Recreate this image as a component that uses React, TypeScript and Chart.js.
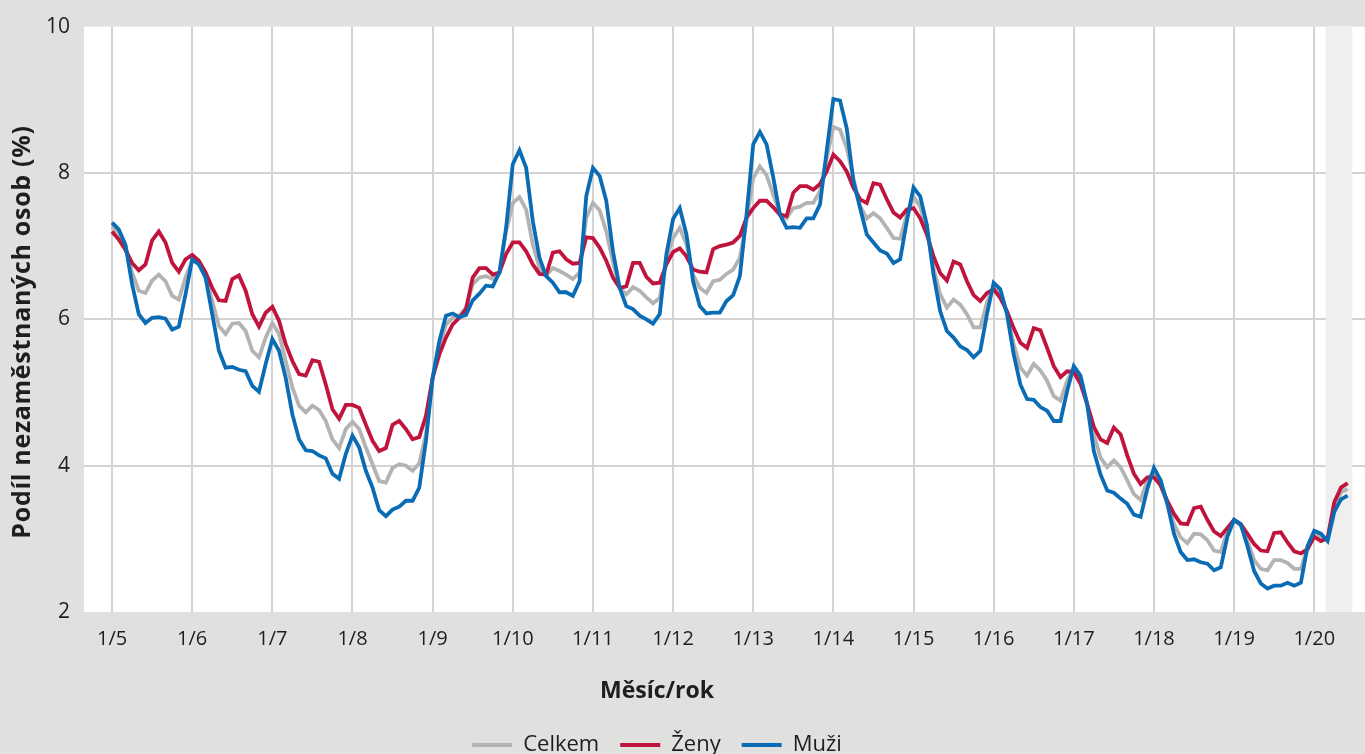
import React, { useEffect, useRef } from "react";
import { Chart, registerables } from "chart.js";

Chart.register(...registerables);

// ---- Data (monthly, January 2005 = month 0) ----
const yearLabels = ["1/5", "1/6", "1/7", "1/8", "1/9", "1/10", "1/11", "1/12", "1/13", "1/14", "1/15", "1/16", "1/17", "1/18", "1/19", "1/20"];
const yearTickMonths = [0, 12, 24, 36, 48, 60, 72, 84, 96, 108, 120, 132, 144, 156, 168, 180];
const yTickValues = [2, 4, 6, 8, 10];

const celkem = [
  7.27, 7.18, 7.0, 6.64, 6.39, 6.36, 6.53, 6.61, 6.52, 6.32, 6.27, 6.57,
  6.8, 6.77, 6.59, 6.25, 5.91, 5.8, 5.94, 5.95, 5.84, 5.57, 5.48, 5.75,
  5.95, 5.8, 5.43, 5.07, 4.82, 4.73, 4.82, 4.76, 4.61, 4.36, 4.24, 4.5,
  4.6, 4.5, 4.25, 4.02, 3.79, 3.77, 3.97, 4.02, 4.0, 3.93, 4.03, 4.43,
  5.2, 5.61, 5.93, 6.02, 6.05, 6.16, 6.48, 6.57, 6.59, 6.55, 6.64, 7.2,
  7.59, 7.67, 7.5, 7.02, 6.7, 6.6, 6.7, 6.66, 6.61, 6.55, 6.64, 7.39,
  7.59, 7.49, 7.2, 6.78, 6.43, 6.34, 6.44, 6.39, 6.3, 6.22, 6.29, 6.84,
  7.11, 7.25, 7.02, 6.61, 6.43, 6.36, 6.52, 6.54, 6.62, 6.68, 6.84, 7.34,
  7.93, 8.09, 7.97, 7.7, 7.45, 7.38, 7.52, 7.54, 7.59, 7.59, 7.75, 8.2,
  8.63, 8.59, 8.34, 7.93, 7.55, 7.38, 7.45, 7.38, 7.25, 7.11, 7.1, 7.43,
  7.68, 7.54, 7.22, 6.7, 6.34, 6.16, 6.27, 6.2, 6.07, 5.89, 5.89, 6.23,
  6.45, 6.35, 6.09, 5.66, 5.34, 5.23, 5.39, 5.3, 5.16, 4.95, 4.89, 5.16,
  5.34, 5.2, 4.84, 4.43, 4.11, 3.98, 4.07, 3.98, 3.8, 3.61, 3.53, 3.8,
  3.93, 3.73, 3.48, 3.2, 3.02, 2.94, 3.07, 3.06, 2.98, 2.84, 2.82, 3.11,
  3.25, 3.18, 2.98, 2.71, 2.59, 2.57, 2.71, 2.71, 2.67, 2.59, 2.59, 2.89,
  3.07, 3.02, 3.0, 3.43, 3.64, 3.68,
];

const zeny = [
  7.2, 7.09, 6.95, 6.77, 6.67, 6.75, 7.08, 7.2, 7.05, 6.77, 6.65, 6.82,
  6.88, 6.8, 6.64, 6.43, 6.26, 6.25, 6.55, 6.6, 6.39, 6.07, 5.9, 6.09,
  6.17, 5.98, 5.66, 5.43, 5.25, 5.23, 5.44, 5.42, 5.11, 4.77, 4.64, 4.83,
  4.83, 4.79, 4.56, 4.34, 4.2, 4.24, 4.56, 4.61, 4.5, 4.36, 4.39, 4.68,
  5.2, 5.52, 5.75, 5.93, 6.02, 6.14, 6.57, 6.7, 6.7, 6.61, 6.64, 6.89,
  7.05, 7.05, 6.93, 6.75, 6.62, 6.61, 6.91, 6.93, 6.82, 6.76, 6.77, 7.12,
  7.11, 6.98, 6.8, 6.57, 6.43, 6.45, 6.77, 6.77, 6.58, 6.49, 6.5, 6.75,
  6.92, 6.97, 6.86, 6.68, 6.65, 6.64, 6.96, 7.0, 7.02, 7.05, 7.14, 7.39,
  7.52, 7.62, 7.62, 7.53, 7.43, 7.41, 7.73, 7.82, 7.82, 7.77, 7.85, 8.02,
  8.25, 8.16, 8.02, 7.8, 7.64, 7.59, 7.86, 7.84, 7.64, 7.46, 7.39, 7.5,
  7.52, 7.38, 7.16, 6.86, 6.63, 6.53, 6.79, 6.75, 6.52, 6.33, 6.25, 6.36,
  6.41, 6.29, 6.11, 5.88, 5.68, 5.61, 5.88, 5.85, 5.61, 5.36, 5.21, 5.29,
  5.28, 5.12, 4.84, 4.53, 4.36, 4.31, 4.52, 4.43, 4.14, 3.89, 3.75, 3.84,
  3.84, 3.73, 3.52, 3.34, 3.21, 3.2, 3.42, 3.44, 3.26, 3.1, 3.04, 3.15,
  3.26, 3.2, 3.07, 2.93, 2.84, 2.83, 3.08, 3.09, 2.95, 2.83, 2.8, 2.86,
  3.03, 2.97, 3.01, 3.5, 3.7, 3.76,
];

const muzi = [
  7.32, 7.23, 7.02, 6.48, 6.07, 5.95, 6.02, 6.03, 6.01, 5.86, 5.9, 6.34,
  6.82, 6.75, 6.57, 6.07, 5.57, 5.34, 5.35, 5.31, 5.29, 5.09, 5.01, 5.39,
  5.73, 5.57, 5.2, 4.7, 4.36, 4.21, 4.2, 4.14, 4.1, 3.89, 3.82, 4.16,
  4.41, 4.25, 3.93, 3.7, 3.39, 3.31, 3.4, 3.44, 3.52, 3.52, 3.7, 4.34,
  5.2, 5.7, 6.05, 6.08, 6.03, 6.06, 6.26, 6.35, 6.46, 6.45, 6.64, 7.25,
  8.12, 8.31, 8.07, 7.34, 6.84, 6.59, 6.5, 6.37, 6.37, 6.32, 6.52, 7.68,
  8.07, 7.96, 7.62, 6.93, 6.43, 6.18, 6.14, 6.05, 6.0, 5.94, 6.07, 6.89,
  7.37, 7.52, 7.16, 6.52, 6.18, 6.08, 6.09, 6.09, 6.25, 6.33, 6.59, 7.43,
  8.39, 8.56, 8.39, 7.94, 7.43, 7.25, 7.26, 7.25, 7.38, 7.38, 7.57, 8.3,
  9.01, 8.99, 8.61, 7.89, 7.52, 7.16, 7.05, 6.94, 6.9, 6.77, 6.82, 7.34,
  7.8, 7.68, 7.29, 6.61, 6.11, 5.84, 5.75, 5.63, 5.58, 5.48, 5.57, 6.07,
  6.5, 6.41, 6.07, 5.52, 5.11, 4.91, 4.9, 4.8, 4.75, 4.61, 4.61, 5.02,
  5.36, 5.23, 4.84, 4.2, 3.88, 3.66, 3.63, 3.55, 3.48, 3.33, 3.3, 3.68,
  3.97, 3.8, 3.48, 3.07, 2.82, 2.71, 2.72, 2.68, 2.66, 2.57, 2.61, 3.03,
  3.26, 3.2, 2.9, 2.56, 2.39, 2.32, 2.36, 2.36, 2.4, 2.36, 2.4, 2.9,
  3.11, 3.07, 2.97, 3.37, 3.54, 3.59,
];

const seriesNames = ["Celkem", "Ženy", "Muži"];
const seriesColors = ["#b3b3b3", "#c0143c", "#0a6cb4"];
const highlightMonths = [181.7, 185.7];
const xRange = [-4.2, 187.6];
const yRange = [2, 10];

const FONT = "'Open Sans', 'Noto Sans', sans-serif";
const TEXT = "#1e1e1e";
const PAGE_BG = "#e0e0df";
const GRID = "#d3d3d3";
const BAND = "#efefef";

const toPoints = (arr: number[]) => arr.map((v, i) => ({ x: i, y: v }));

const decorPlugin = {
  id: "decor",
  beforeDraw(chart: any) {
    const { ctx, chartArea, width, height } = chart;
    ctx.save();
    ctx.fillStyle = PAGE_BG;
    ctx.fillRect(0, 0, width, height);
    ctx.fillStyle = "#ffffff";
    ctx.fillRect(chartArea.left, chartArea.top, chartArea.right - chartArea.left, chartArea.bottom - chartArea.top);
    ctx.restore();
  },
  beforeDatasetsDraw(chart: any) {
    const { ctx, chartArea, scales } = chart;
    const x0 = scales.x.getPixelForValue(highlightMonths[0]);
    const x1 = scales.x.getPixelForValue(highlightMonths[1]);
    ctx.save();
    ctx.fillStyle = BAND;
    ctx.fillRect(x0, chartArea.top, x1 - x0, chartArea.bottom - chartArea.top);
    ctx.restore();
  },
  afterDraw(chart: any) {
    const { ctx } = chart;
    ctx.save();
    // Y axis title
    ctx.fillStyle = TEXT;
    ctx.font = `bold 25px ${FONT}`;
    try { (ctx as any).letterSpacing = "0.7px"; } catch (e) { /* ignore */ }
    ctx.textAlign = "center";
    ctx.textBaseline = "middle";
    ctx.translate(23, 332);
    ctx.rotate(-Math.PI / 2);
    ctx.fillText("Podíl nezaměstnaných osob (%)", 0, 0);
    ctx.restore();

    ctx.save();
    const centerX = 657;
    ctx.fillStyle = TEXT;
    ctx.font = `bold 23px ${FONT}`;
    ctx.textAlign = "center";
    ctx.textBaseline = "middle";
    ctx.fillText("Měsíc/rok", centerX, 691);

    // Legend
    ctx.font = `22px ${FONT}`;
    const lineW = 40;
    const gapLT = 11;
    const gapItems = 21;
    const widths = seriesNames.map((n) => ctx.measureText(n).width);
    const total = widths.reduce((a, w) => a + lineW + gapLT + w, 0) + gapItems * (seriesNames.length - 1);
    let x = centerX - total / 2;
    const ly = 745;
    ctx.textAlign = "left";
    seriesNames.forEach((n, i) => {
      ctx.strokeStyle = seriesColors[i];
      ctx.lineWidth = 4;
      ctx.beginPath();
      ctx.moveTo(x, ly);
      ctx.lineTo(x + lineW, ly);
      ctx.stroke();
      x += lineW + gapLT;
      ctx.fillStyle = TEXT;
      ctx.fillText(n, x, ly);
      x += widths[i] + gapItems;
    });
    ctx.restore();
  },
};

export default function App() {
  const canvasRef = useRef<HTMLCanvasElement | null>(null);

  useEffect(() => {
    const canvas = canvasRef.current;
    if (!canvas) return;
    const seriesData = [celkem, zeny, muzi];
    const chart = new Chart(canvas, {
      type: "line",
      data: {
        datasets: seriesData.map((d, i) => ({
          label: seriesNames[i],
          data: toPoints(d),
          borderColor: seriesColors[i],
          backgroundColor: seriesColors[i],
          borderWidth: 3.8,
          pointRadius: 0,
          pointHoverRadius: 0,
          tension: 0,
          fill: false,
          order: 2 - i,
        })),
      },
      options: {
        animation: false,
        responsive: false,
        devicePixelRatio: 1,
        events: [],
        layout: { padding: { top: 25, left: 0, right: 0, bottom: 0 } },
        plugins: {
          legend: { display: false },
          tooltip: { enabled: false },
          title: { display: false },
        },
        scales: {
          x: {
            type: "linear",
            min: xRange[0],
            max: xRange[1],
            afterBuildTicks: (scale: any) => {
              scale.ticks = yearTickMonths.map((v) => ({ value: v }));
            },
            afterFit: (scale: any) => {
              scale.height = 142;
            },
            ticks: {
              autoSkip: false,
              maxRotation: 0,
              minRotation: 0,
              padding: 15,
              color: TEXT,
              font: { family: FONT, size: 20 },
              callback: (_v: any, idx: number) => yearLabels[idx],
            },
            grid: { color: GRID, lineWidth: 2, drawTicks: false },
            border: { display: false },
          },
          y: {
            type: "linear",
            min: yRange[0],
            max: yRange[1],
            afterBuildTicks: (scale: any) => {
              scale.ticks = yTickValues.map((v) => ({ value: v }));
            },
            afterFit: (scale: any) => {
              scale.width = 84;
            },
            ticks: {
              padding: 14,
              color: TEXT,
              font: { family: FONT, size: 21 },
              callback: (v: any) => String(v),
            },
            grid: {
              color: (c: any) => (c.tick && (c.tick.value === yRange[0] || c.tick.value === yRange[1]) ? "rgba(0,0,0,0)" : GRID),
              lineWidth: 2,
              drawTicks: false,
            },
            border: { display: false },
          },
        },
      },
      plugins: [decorPlugin],
    });
    return () => chart.destroy();
  }, []);

  return (
    <div style={{ position: "fixed", left: 0, top: 0, width: 1365, height: 754, overflow: "hidden" }}>
      <canvas ref={canvasRef} width={1365} height={754} style={{ display: "block" }} />
    </div>
  );
}
